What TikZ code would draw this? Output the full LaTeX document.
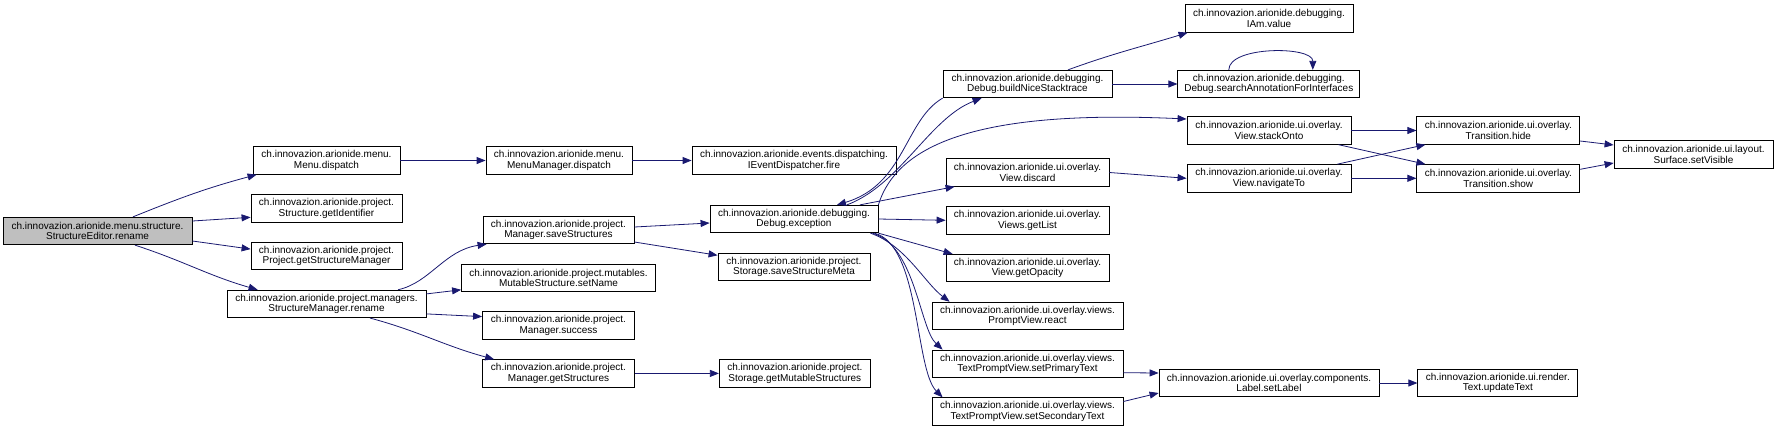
\documentclass[tikz,border=0pt]{standalone}
\usepackage{fontspec}
\setmainfont{Liberation Sans}
\usepackage{tikz}
\usetikzlibrary{positioning,arrows.meta}
\definecolor{edgeblue}{HTML}{191970}
\definecolor{rootgray}{HTML}{BFBFBF}

\begin{document}
\begin{tikzpicture}[
  x=1pt, y=1pt,
  node distance=19.5pt,
  func/.style={rectangle, draw=black, fill=white, line width=0.8pt,
    minimum height=27.5pt, inner xsep=2pt, inner ysep=2pt, align=center,
    font=\fontsize{10}{10.5}\selectfont},
  call/.style={-{Triangle[length=9pt,width=7pt]}, line width=0.8pt, color=edgeblue},
]
\useasboundingbox (0,0) rectangle (1777,-426);
\node[func,fill=rootgray,minimum width=189pt] (rename) at (97.5,-231) {ch.innovazion.arionide.menu.structure.\\StructureEditor.rename};
\node[func,minimum width=147pt] (menudispatch) at (326.5,-160.5) {ch.innovazion.arionide.menu.\\Menu.dispatch};
\node[func,minimum width=151pt,below=of menudispatch] (getidentifier) {ch.innovazion.arionide.project.\\Structure.getIdentifier};
\node[func,minimum width=151pt,below=of getidentifier] (getmanager) {ch.innovazion.arionide.project.\\Project.getStructureManager};
\node[func,minimum width=199pt,below=of getmanager] (smrename) {ch.innovazion.arionide.project.managers.\\StructureManager.rename};
\node[func,minimum width=146pt] (menumgr) at (559,-160.5) {ch.innovazion.arionide.menu.\\MenuManager.dispatch};
\node[func,minimum width=151pt] (savestructures) at (558.5,-230) {ch.innovazion.arionide.project.\\Manager.saveStructures};
\node[func,minimum width=194pt,below=of savestructures] (setname) {ch.innovazion.arionide.project.mutables.\\MutableStructure.setName};
\node[func,minimum width=152pt,below=of setname] (success) {ch.innovazion.arionide.project.\\Manager.success};
\node[func,minimum width=152pt,below=of success] (getstructures) {ch.innovazion.arionide.project.\\Manager.getStructures};
\node[func,minimum width=204pt] (fire) at (794,-160.5) {ch.innovazion.arionide.events.dispatching.\\IEventDispatcher.fire};
\node[func,minimum width=168pt] (exception) at (794,-219) {ch.innovazion.arionide.debugging.\\Debug.exception};
\node[func,minimum width=152pt,below=of exception] (savemeta) {ch.innovazion.arionide.project.\\Storage.saveStructureMeta};
\node[func,minimum width=151pt,right=84pt of getstructures] (getmutable) {ch.innovazion.arionide.project.\\Storage.getMutableStructures};
\node[func,minimum width=169pt] (buildnice) at (1027.5,-84) {ch.innovazion.arionide.debugging.\\Debug.buildNiceStacktrace};
\node[func,minimum width=163pt] (discard) at (1027.5,-172.5) {ch.innovazion.arionide.ui.overlay.\\View.discard};
\node[func,minimum width=163pt,below=of discard] (getlist) {ch.innovazion.arionide.ui.overlay.\\Views.getList};
\node[func,minimum width=163pt,below=of getlist] (getopacity) {ch.innovazion.arionide.ui.overlay.\\View.getOpacity};
\node[func,minimum width=191pt,below=of getopacity] (react) {ch.innovazion.arionide.ui.overlay.views.\\PromptView.react};
\node[func,minimum width=191pt,below=of react] (setprimary) {ch.innovazion.arionide.ui.overlay.views.\\TextPromptView.setPrimaryText};
\node[func,minimum width=191pt,below=of setprimary] (setsecondary) {ch.innovazion.arionide.ui.overlay.views.\\TextPromptView.setSecondaryText};
\node[func,minimum width=168pt] (iamvalue) at (1269,-18.5) {ch.innovazion.arionide.debugging.\\IAm.value};
\node[func,minimum width=182pt,right=65pt of buildnice] (searchannot) {ch.innovazion.arionide.debugging.\\Debug.searchAnnotationForInterfaces};
\node[func,minimum width=164pt] (stackonto) at (1269,-130.5) {ch.innovazion.arionide.ui.overlay.\\View.stackOnto};
\node[func,minimum width=164pt,below=of stackonto] (navigateto) {ch.innovazion.arionide.ui.overlay.\\View.navigateTo};
\node[func,minimum width=220pt] (setlabel) at (1269,-383) {ch.innovazion.arionide.ui.overlay.components.\\Label.setLabel};
\node[func,minimum width=163pt,right=65pt of stackonto] (hide) {ch.innovazion.arionide.ui.overlay.\\Transition.hide};
\node[func,minimum width=163pt,right=65pt of navigateto] (show) {ch.innovazion.arionide.ui.overlay.\\Transition.show};
\node[func,minimum width=160pt,right=38pt of setlabel] (updatetext) {ch.innovazion.arionide.ui.render.\\Text.updateText};
\node[func,minimum width=159pt] (setvisible) at (1693.5,-154.5) {ch.innovazion.arionide.ui.layout.\\Surface.setVisible};
\draw[call] ([xshift=35.5pt]rename.north) to[out=22,in=195] ([xshift=4pt]menudispatch.south west);
\draw[call] ([yshift=10pt]rename.east) -- ([yshift=-9pt]getidentifier.west);
\draw[call] ([yshift=-10pt]rename.east) -- ([yshift=7pt]getmanager.west);
\draw[call] ([xshift=37.5pt]rename.south) to[out=-18,in=164] ([xshift=31pt]smrename.north west);
\draw[call] (menudispatch) -- (menumgr);
\draw[call] (menumgr) -- (fire);
\draw[call] ([xshift=71.5pt]smrename.north) .. controls +(32,7) and +(-42,-6) .. ([xshift=4pt]savestructures.south west);
\draw[call] ([yshift=10pt]smrename.east) -- ([yshift=-12pt]setname.west);
\draw[call] ([yshift=-10pt]smrename.east) -- ([yshift=9pt]success.west);
\draw[call] ([xshift=43.5pt]smrename.south) to[out=-15,in=165] ([xshift=12pt]getstructures.north west);
\draw[call] ([yshift=3pt]savestructures.east) -- ([yshift=-4pt]exception.west);
\draw[call] ([yshift=-12pt]savestructures.east) -- ([yshift=11.5pt]savemeta.west);
\draw[call] (getstructures) -- (getmutable);
\draw[call] (buildnice.south west) .. controls +(-38,-22) and +(68,20) .. ([xshift=43pt]exception.north);
\draw[call] ([xshift=53pt]exception.north) .. controls +(53,20) and +(-52,-20) .. ([xshift=39pt]buildnice.south west);
\draw[call] (exception.north east) .. controls +(20,65) and +(-197,9) .. ([yshift=11.5pt]stackonto.west);
\draw[call] ([xshift=66pt]exception.north) -- ([xshift=9pt]discard.south west);
\draw[call] (exception.east) -- (getlist.west);
\draw[call] (exception.south east) -- ([xshift=7pt]getopacity.north west);
\draw[call] ([xshift=-8pt]exception.south east) .. controls +(35,-12) and +(-25,19) .. ([xshift=18pt]react.north west);
\draw[call] ([xshift=-6pt]exception.south east) .. controls +(43,-12) and +(-23,21) .. ([xshift=11pt]setprimary.north west);
\draw[call] ([xshift=-4pt]exception.south east) .. controls +(46,-12) and +(-28,28) .. ([xshift=11pt]setsecondary.north west);
\draw[call] ([xshift=40.5pt]buildnice.north) to[out=20,in=197] ([xshift=3pt]iamvalue.south west);
\draw[call] (buildnice) -- (searchannot);
\draw[call] ([xshift=-40pt]searchannot.north) .. controls +(0,24) and +(0,24) .. ([xshift=44pt]searchannot.north);
\draw[call] (discard.east) -- (navigateto.west);
\draw[call] (stackonto) -- (hide);
\draw[call] ([xshift=-13pt]stackonto.south east) -- ([xshift=9pt]show.north west);
\draw[call] ([xshift=-14pt]navigateto.north east) -- ([xshift=9pt]hide.south west);
\draw[call] (navigateto) -- (show);
\draw[call] ([yshift=-10.5pt]hide.east) -- ([yshift=9.5pt]setvisible.west);
\draw[call] ([yshift=9pt]show.east) -- ([yshift=-8.5pt]setvisible.west);
\draw[call] ([yshift=-9pt]setprimary.east) -- ([yshift=10pt]setlabel.west);
\draw[call] ([yshift=10pt]setsecondary.east) -- ([yshift=-10pt]setlabel.west);
\draw[call] (setlabel) -- (updatetext);
\end{tikzpicture}
\end{document}
